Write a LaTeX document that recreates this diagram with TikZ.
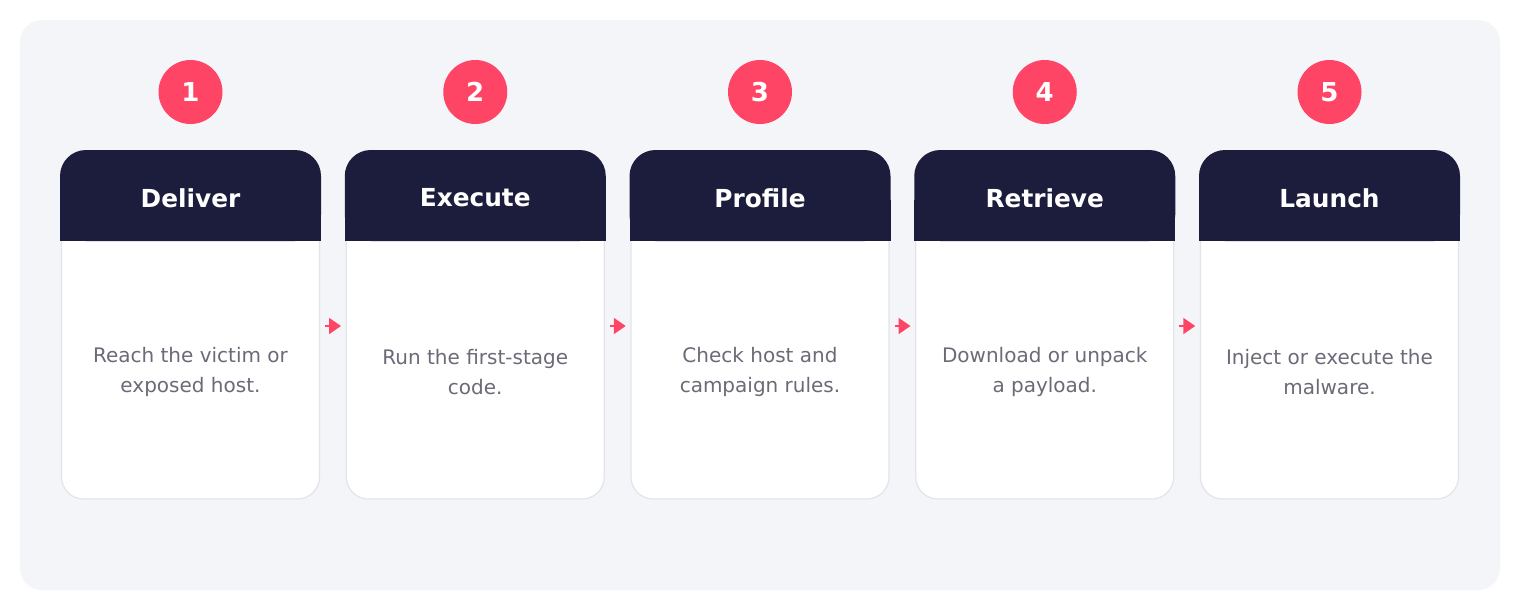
\documentclass[tikz,border=0pt]{standalone}
\usepackage{fontspec}
\setmainfont{DejaVu Sans}
\usetikzlibrary{arrows.meta}
\definecolor{panel}{HTML}{F4F5F9}
\definecolor{hdr}{HTML}{1C1C3D}
\definecolor{accent}{HTML}{FF4565}
\definecolor{bodytxt}{HTML}{6B6B78}
\definecolor{cardedge}{HTML}{E3E4EA}
\tikzset{
  numcirc/.style={circle, fill=accent, minimum size=64pt, inner sep=0pt, text=white, font=\fontsize{26}{26}\selectfont\bfseries},
  cardtitle/.style={text=white, font=\fontsize{24.8}{24.8}\selectfont\bfseries},
  cardtext/.style={text=bodytxt, align=center, font=\fontsize{20}{30}\selectfont},
  flow/.style={draw=accent, line width=2pt, -{Triangle[width=16pt,length=12pt]}}
}
\begin{document}
\begin{tikzpicture}[x=1pt,y=-1pt]
\useasboundingbox (0,0) rectangle (1520,610);
\fill[white] (0,0) rectangle (1520,610);
\fill[panel, rounded corners=22pt] (20,20) rectangle (1500,590);
\foreach \i/\t/\a/\b in {1/Deliver/Reach the victim or/exposed host.,2/Execute/Run the first-stage/code.,3/Profile/Check host and/campaign rules.,4/Retrieve/Download or unpack/a payload.,5/Launch/Inject or execute the/malware.}{
  \pgfmathsetmacro{\xl}{60+(\i-1)*284.75}
  \pgfmathsetmacro{\xc}{\xl+130.5}
  % body
  \draw[cardedge, fill=white, line width=1.2pt, rounded corners=22pt] (\xl+1.5,200) rectangle (\xl+259.5,499);
  % header
  \fill[hdr, rounded corners=26pt] (\xl,150) rectangle (\xl+261,241);
  \fill[hdr] (\xl,200) rectangle (\xl+261,241);
  \node[cardtitle] (t\i) at (\xc,198) {\t};
  \node[numcirc] (n\i) at (\xc,92) {\i};
  \node[cardtext] (d\i) at (\xc,372) {\a\\\b};
}
\foreach \i in {1,...,4}{
  \pgfmathsetmacro{\xs}{60+(\i-1)*284.75+265}
  \coordinate (as\i) at (\xs,326);
  \coordinate (ae\i) at (\xs+16,326);
  \draw[flow] (as\i) -- (ae\i);
}
\end{tikzpicture}
\end{document}
